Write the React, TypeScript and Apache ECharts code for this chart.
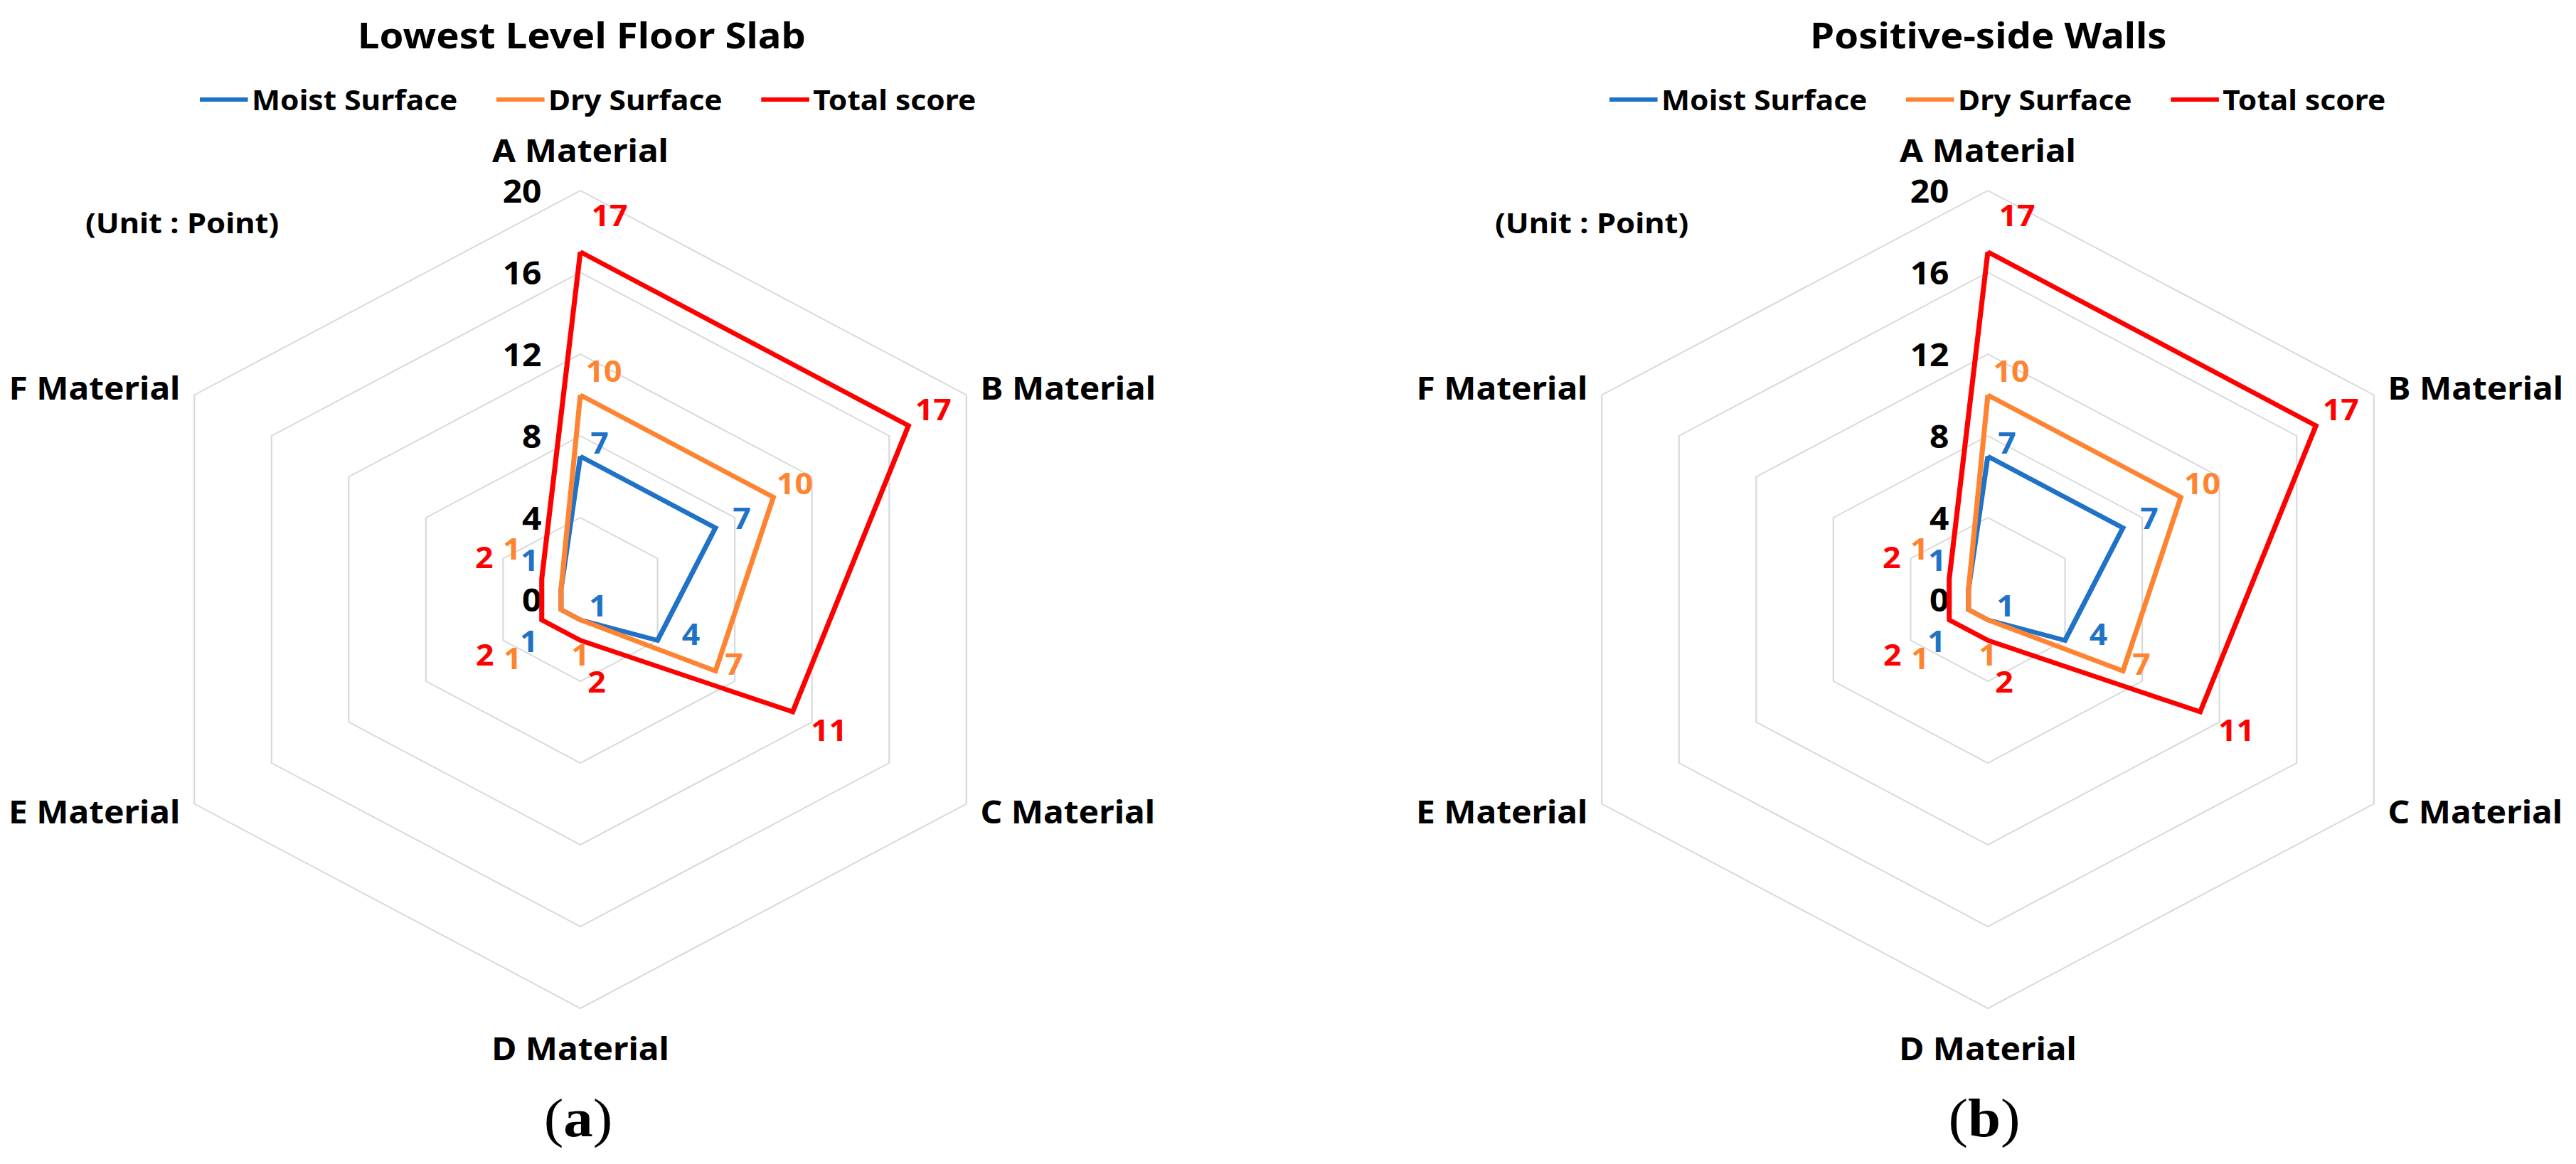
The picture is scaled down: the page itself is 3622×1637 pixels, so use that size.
import React, { useEffect, useRef } from 'react';
import * as echarts from 'echarts';

// ---------- data ----------
const materials = ['A Material', 'B Material', 'C Material', 'D Material', 'E Material', 'F Material'];
const seriesNames = ['Moist Surface', 'Dry Surface', 'Total score'];
const slabMoist = [7, 7, 4, 1, 1, 1];
const slabDry = [10, 10, 7, 1, 1, 1];
const slabTotal = [17, 17, 11, 2, 2, 2];
const wallMoist = [7, 7, 4, 1, 1, 1];
const wallDry = [10, 10, 7, 1, 1, 1];
const wallTotal = [17, 17, 11, 2, 2, 2];
const axisMin = 0;
const axisMax = 20;
const axisSplits = 5;
const chartTitles = ['Lowest Level Floor Slab', 'Positive-side Walls'];
const panelLetters = ['a', 'b'];
const unitLabel = '(Unit : Point)';

// ---------- styles / layout ----------
const SX = 1.09; // horizontal stretch of the original figure
const W = 3622;
const H = 1637;
const innerW = W / SX;
const px = (x: number) => x / SX;
const FONT = "'Noto Sans', 'DejaVu Sans', sans-serif";
const SERIF = "'Liberation Serif', 'DejaVu Serif', serif";
const colors = ['#1f72c6', '#ff8431', '#ff0000'];
const centersPost = [816, 2795];
const CY = 843;
const R = 575;
const legendLeftPost = [281, 2263];
const titleXPost = [818, 2796];
const unitXPost = [120, 2102];
const panelXPost = [813, 2790];
// order of indicators as ECharts lays them (counter-clockwise from top)
const order = [0, 5, 4, 3, 2, 1];
const dimAngles = [90, 30, -30, -90, -150, 150];
// label offsets (px in final picture) per series kind, per material
const labelOffsets = [
  [[27, -20], [37, -14], [47, -9], [25, -21], [-45, 44], [-44, -41]],
  [[33, -34], [30, -20], [26, -10], [0, 48], [-68, 68], [-69, -57]],
  [[41, -52], [35, -23], [51, 25], [23, 58], [-80, 48], [-81, -31]],
];

const panels = [
  [slabMoist, slabDry, slabTotal],
  [wallMoist, wallDry, wallTotal],
];

function buildOption() {
  const radar = centersPost.map((cx) => ({
    center: [px(cx), CY],
    radius: R,
    startAngle: 90,
    splitNumber: axisSplits,
    shape: 'polygon',
    nameGap: 21,
    indicator: order.map((k) => {
      const ind: any = { name: materials[k], min: axisMin, max: axisMax };
      if (k === 0) {
        ind.axisLabel = {
          show: true,
          color: '#000',
          fontSize: 44,
          fontWeight: 'bold',
          fontFamily: FONT,
          margin: 50,
        };
      }
      return ind;
    }),
    axisName: {
      color: '#000',
      fontSize: 44,
      fontWeight: 'bold',
      fontFamily: FONT,
      lineHeight: 70,
    },
    axisLine: { show: false },
    axisTick: { show: false },
    axisLabel: { show: false },
    splitLine: { lineStyle: { color: '#d9d9d9', width: 2 } },
    splitArea: { show: false },
  }));

  const series: any[] = [];
  panels.forEach((vals, ri) => {
    vals.forEach((arr, si) => {
      series.push({
        type: 'radar',
        radarIndex: ri,
        name: seriesNames[si],
        symbol: 'circle',
        symbolSize: 2,
        z: 2 + si,
        lineStyle: { color: colors[si], width: 6.5, join: 'miter' },
        itemStyle: { color: colors[si] },
        label: {
          show: true,
          position: 'inside',
          color: colors[si],
          fontSize: 41,
          fontWeight: 'bold',
          fontFamily: FONT,
        },
        labelLayout: (p: any) => {
          try {
            const s = p.seriesIndex;
            const rIdx = Math.floor(s / 3);
            const kind = s % 3;
            const r = p.rect;
            const x = r.x + r.width / 2;
            const y = r.y + r.height / 2;
            const cx = px(centersPost[rIdx]);
            const ang = (Math.atan2(CY - y, x - cx) * 180) / Math.PI;
            let best = 0;
            let bestD = 1e9;
            dimAngles.forEach((a, i) => {
              let d = Math.abs(a - ang) % 360;
              if (d > 180) d = 360 - d;
              if (d < bestD) {
                bestD = d;
                best = i;
              }
            });
            const off = labelOffsets[kind][best];
            return { x: x + off[0] / SX, y: y + off[1], align: 'center', verticalAlign: 'middle' };
          } catch (e) {
            return {};
          }
        },
        data: [{ name: seriesNames[si], value: order.map((k) => arr[k]) }],
      });
    });
  });

  const legend = legendLeftPost.map((lx) => ({
    data: seriesNames,
    left: px(lx),
    top: 116,
    orient: 'horizontal',
    icon: 'rect',
    itemWidth: 62,
    itemHeight: 6,
    itemGap: 50,
    padding: 0,
    selectedMode: false,
    itemStyle: { borderWidth: 0 },
    textStyle: { fontSize: 39, fontWeight: 'bold', color: '#000', fontFamily: FONT, lineHeight: 48 },
  }));

  const graphic: any[] = [];
  chartTitles.forEach((t, i) => {
    graphic.push({
      type: 'text',
      x: px(titleXPost[i]),
      y: 48,
      style: {
        text: t,
        fill: '#000',
        fontSize: 50,
        fontWeight: 'bold',
        fontFamily: FONT,
        align: 'center',
        verticalAlign: 'middle',
      },
    });
    graphic.push({
      type: 'text',
      x: px(unitXPost[i]),
      y: 312,
      style: {
        text: unitLabel,
        fill: '#000',
        fontSize: 40,
        fontWeight: 'bold',
        fontFamily: FONT,
        align: 'left',
        verticalAlign: 'middle',
      },
    });
    graphic.push({
      type: 'text',
      x: px(panelXPost[i]),
      y: 1572,
      style: {
        text: '({b|' + panelLetters[i] + '})',
        fill: '#000',
        fontSize: 76,
        fontWeight: 'normal',
        fontFamily: SERIF,
        align: 'center',
        verticalAlign: 'middle',
        rich: {
          b: { fontSize: 76, fontWeight: 'bold', fill: '#000', color: '#000', fontFamily: SERIF },
        },
      },
    });
  });

  return {
    animation: false,
    backgroundColor: '#ffffff',
    legend,
    radar,
    series,
    graphic,
  };
}

export default function App() {
  const ref = useRef<HTMLDivElement>(null);
  useEffect(() => {
    document.body.style.margin = '0';
    const chart = echarts.init(ref.current as HTMLDivElement, null, { renderer: 'svg' });
    chart.setOption(buildOption() as any);
    return () => chart.dispose();
  }, []);
  return (
    <div style={{ width: W, height: H, overflow: 'hidden', background: '#fff', position: 'relative' }}>
      <div
        ref={ref}
        style={{ width: innerW, height: H, transform: `scaleX(${SX})`, transformOrigin: '0 0' }}
      />
    </div>
  );
}
